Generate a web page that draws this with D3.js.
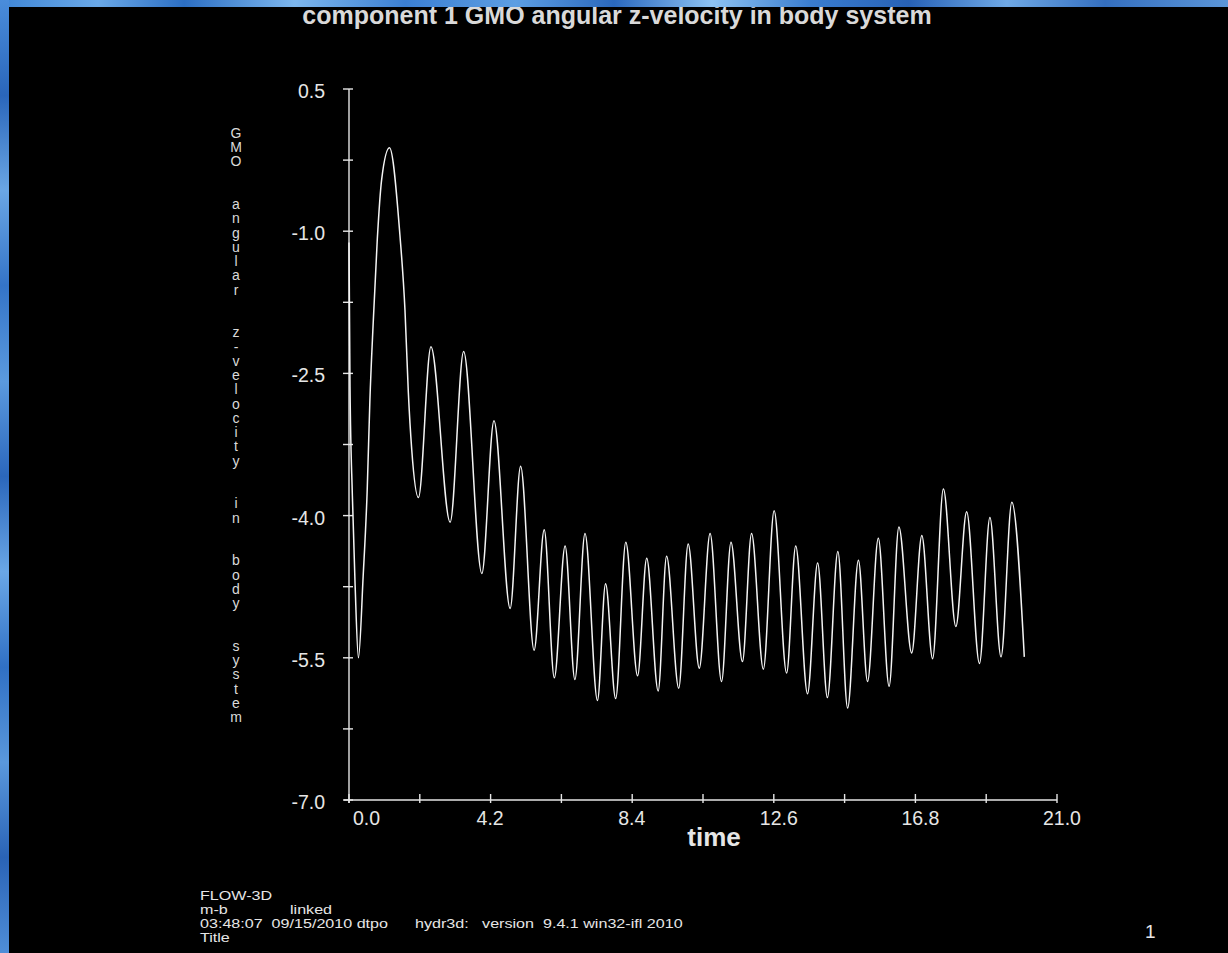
<!DOCTYPE html>
<html>
<head>
<meta charset="utf-8">
<script src="https://cdn.jsdelivr.net/npm/d3@7"></script>
<style>
  html, body { margin: 0; padding: 0; background: #000; overflow: hidden; }
  svg { display: block; }
</style>
</head>
<body>
<svg id="chart" width="1228" height="953"></svg>
<script>
// Sampled body-frame angular z-velocity of component 1 (extremes and a few shape points)
const timeValues = [
  0.00, 0.03, 0.10, 0.18, 0.28, 0.42, 0.54, 0.62, 0.72, 0.84, 0.97, 1.20,
  1.51, 1.66, 1.76, 1.86, 2.06, 2.43, 3.00, 3.40, 3.94, 4.30, 4.78, 5.09,
  5.49, 5.79, 6.09, 6.41, 6.70, 7.00, 7.37, 7.61, 7.91, 8.21, 8.56, 8.83,
  9.17, 9.42, 9.78, 10.06, 10.39, 10.71, 11.05, 11.33, 11.67, 11.94, 12.29, 12.61,
  12.98, 13.25, 13.60, 13.90, 14.19, 14.50, 14.79, 15.11, 15.38, 15.70, 16.02, 16.31,
  16.69, 16.99, 17.31, 17.63, 18.00, 18.32, 18.70, 19.01, 19.34, 19.66, 20.03
];
const zVelocity = [
  -1.12, -2.64, -3.79, -4.72, -5.50, -4.64, -3.73, -2.78, -1.95, -1.08, -0.45, -0.12,
  -1.04, -1.83, -2.70, -3.30, -3.81, -2.22, -4.07, -2.27, -4.61, -3.00, -4.98, -3.48,
  -5.42, -4.15, -5.71, -4.32, -5.73, -4.19, -5.95, -4.72, -5.93, -4.28, -5.69, -4.45,
  -5.85, -4.43, -5.82, -4.30, -5.61, -4.19, -5.75, -4.28, -5.54, -4.19, -5.62, -3.95,
  -5.66, -4.32, -5.88, -4.50, -5.92, -4.38, -6.03, -4.47, -5.75, -4.24, -5.80, -4.12,
  -5.45, -4.21, -5.51, -3.72, -5.17, -3.96, -5.56, -4.02, -5.49, -3.86, -5.49
];

// Axis ticks and labels
const yTickValues  = [0.5, -0.25, -1.0, -1.75, -2.5, -3.25, -4.0, -4.75, -5.5, -6.25, -7.0];
const yLabelValues = [0.5, -1.0, -2.5, -4.0, -5.5, -7.0];
const xTickValues  = [0, 2.1, 4.2, 6.3, 8.4, 10.5, 12.6, 14.7, 16.8, 18.9, 21.0];
const xLabelValues = [0, 4.2, 8.4, 12.6, 16.8, 21.0];

const titleText  = "component 1 GMO angular z-velocity in body system";
const yAxisTitle = "GMO  angular  z-velocity  in  body  system";
const xAxisTitle = "time";
const pageNumber = "1";

const svg = d3.select("#chart");
const W = 1228, H = 953;
const fg = "#e6e6e6";
const font = "'Liberation Sans', Arial, Helvetica, sans-serif";
const fmt = d => d.toFixed(1);

// Scales
const x = d3.scaleLinear().domain([0, 21]).range([349, 1057]);
const y = d3.scaleLinear().domain([-7, 0.5]).range([800, 89]);

// Black plotting page
svg.append("rect").attr("x", 0).attr("y", 0).attr("width", W).attr("height", H).attr("fill", "#000");

// Title
svg.append("text")
  .attr("x", 617).attr("y", 24)
  .attr("text-anchor", "middle")
  .attr("font-family", font).attr("font-weight", "bold").attr("font-size", 25)
  .attr("fill", "#d9d9d9")
  .text(titleText);

// Y axis
const gy = svg.append("g");
gy.append("line").attr("x1", x(0)).attr("x2", x(0)).attr("y1", y(0.5)).attr("y2", y(-7) + 3)
  .attr("stroke", fg).attr("stroke-width", 1.4);
gy.selectAll("line.tick").data(yTickValues).join("line").attr("class", "tick")
  .attr("x1", x(0) - 6).attr("x2", x(0) + 4)
  .attr("y1", d => y(d)).attr("y2", d => y(d))
  .attr("stroke", fg).attr("stroke-width", 1.4);
gy.selectAll("text").data(yLabelValues).join("text")
  .attr("x", 325).attr("y", d => y(d) + 9)
  .attr("text-anchor", "end")
  .attr("font-family", font).attr("font-size", 19.5).attr("fill", fg)
  .text(fmt);

// X axis
const gx = svg.append("g");
gx.append("line").attr("x1", x(0) - 5).attr("x2", x(21)).attr("y1", y(-7)).attr("y2", y(-7))
  .attr("stroke", fg).attr("stroke-width", 1.4);
gx.selectAll("line.tick").data(xTickValues).join("line").attr("class", "tick")
  .attr("x1", d => x(d)).attr("x2", d => x(d))
  .attr("y1", y(-7) - 6).attr("y2", y(-7) + 3)
  .attr("stroke", fg).attr("stroke-width", 1.4);
gx.selectAll("text").data(xLabelValues).join("text")
  .attr("x", d => d === 0 ? x(d) + 4 : x(d) - 14)
  .attr("y", y(-7) + 25)
  .attr("text-anchor", "start")
  .attr("font-family", font).attr("font-size", 19.5).attr("fill", fg)
  .text(fmt);

// X axis title
svg.append("text")
  .attr("x", 714).attr("y", 846)
  .attr("text-anchor", "middle")
  .attr("font-family", font).attr("font-weight", "bold").attr("font-size", 26)
  .attr("fill", fg)
  .text(xAxisTitle);

// Y axis title, one upright character per row
const yChars = Array.from(yAxisTitle);
const rowStep = (717 - 133) / (yChars.length - 1);
svg.append("g").selectAll("text").data(yChars.map((c, i) => ({c, i}))).join("text")
  .attr("x", 236).attr("y", d => 133 + d.i * rowStep + 5)
  .attr("text-anchor", "middle")
  .attr("font-family", font).attr("font-size", 14).attr("fill", "#dadada")
  .text(d => d.c === " " ? "" : d.c);

// Series line
const series = timeValues.map((t, i) => [t, zVelocity[i]]);
const line = d3.line()
  .x(d => x(d[0]))
  .y(d => y(d[1]))
  .curve(d3.curveMonotoneX);
svg.append("path")
  .datum(series)
  .attr("d", line)
  .attr("fill", "none")
  .attr("stroke", "#f4f4f4")
  .attr("stroke-width", 1.5)
  .attr("stroke-linejoin", "round");

// Run information footer (tightly stacked, slightly widened lettering)
const footer = svg.append("g")
  .attr("font-family", font).attr("font-size", 13).attr("fill", fg);
const footerItems = [
  {x: 200, y: 900, s: "FLOW-3D"},
  {x: 200, y: 914, s: "m-b"},
  {x: 290, y: 914, s: "linked"},
  {x: 200, y: 928, s: "03:48:07  09/15/2010 dtpo"},
  {x: 415, y: 928, s: "hydr3d:   version  9.4.1 win32-ifl 2010"},
  {x: 200, y: 942, s: "Title"}
];
footer.selectAll("text").data(footerItems).join("text")
  .attr("transform", d => `translate(${d.x},${d.y}) scale(1.24,1)`)
  .attr("xml:space", "preserve")
  .style("white-space", "pre")
  .text(d => d.s);

svg.append("text")
  .attr("x", 1145).attr("y", 938)
  .attr("font-family", font).attr("font-size", 19).attr("fill", fg)
  .text(pageNumber);

// Blue desktop border around the page
const defs = svg.append("defs");
const gradTop = defs.append("linearGradient").attr("id", "seaTop")
  .attr("x1", 0).attr("x2", 1).attr("y1", 0).attr("y2", 0);
[["0%", "#3f86d6"], ["8%", "#6aa9e8"], ["15%", "#2c6fc4"], ["24%", "#7db7ee"], ["33%", "#3b7fd2"],
 ["42%", "#5d9ee2"], ["50%", "#2a68bd"], ["58%", "#8dc2f2"], ["66%", "#3a7dcf"], ["74%", "#2761b6"],
 ["82%", "#6fa9e6"], ["90%", "#346fc0"], ["100%", "#5c96d8"]]
  .forEach(([o, c]) => gradTop.append("stop").attr("offset", o).attr("stop-color", c));
const gradLeft = defs.append("linearGradient").attr("id", "seaLeft")
  .attr("x1", 0).attr("x2", 0).attr("y1", 0).attr("y2", 1);
[["0%", "#4a8ddb"], ["10%", "#2a66bb"], ["20%", "#6aa6e4"], ["30%", "#3474c8"], ["40%", "#5b9ade"],
 ["50%", "#2b67bc"], ["60%", "#6aa7e6"], ["70%", "#3070c4"], ["80%", "#5a98dc"], ["90%", "#2a63b6"],
 ["100%", "#4f8ed8"]]
  .forEach(([o, c]) => gradLeft.append("stop").attr("offset", o).attr("stop-color", c));
svg.append("rect").attr("x", 0).attr("y", 0).attr("width", W).attr("height", 7).attr("fill", "url(#seaTop)");
svg.append("rect").attr("x", 0).attr("y", 0).attr("width", 9).attr("height", H).attr("fill", "url(#seaLeft)");
</script>
</body>
</html>
